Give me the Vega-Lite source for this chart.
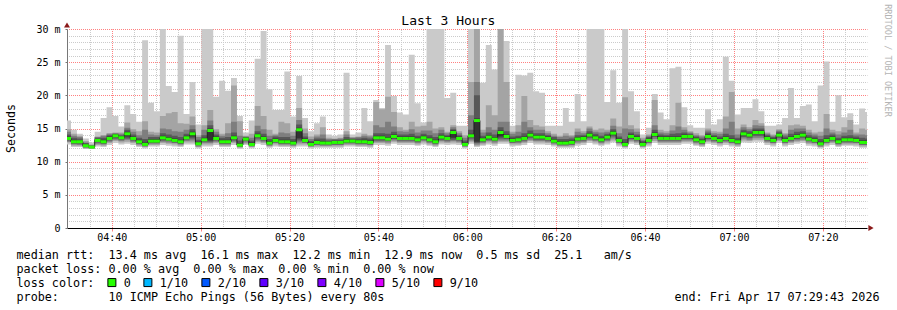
{
"$schema": "https://vega.github.io/schema/vega-lite/v6.json",
"width": 800,
"height": 199,
"autosize": "none",
"padding": {"left": 67, "top": 29, "right": 30, "bottom": 82},
"background": "#ffffff",
"config": {"view": {"stroke": null}, "font": "DejaVu Sans Mono"},
"data": {
"format": {"parse": {"t": "utc:'%H:%M:%S'"}},
"values": [
{"t":"04:29:30","a":12.6,"b":12.9,"c":13.0,"d":13.2,"e":13.3,"m":13.5,"f":13.8,"g":14.1,"h":14.5,"i":14.9,"j":16.2},
{"t":"04:30:50","a":12.2,"b":12.4,"c":12.6,"d":12.7,"e":12.9,"m":13.0,"f":13.3,"g":13.6,"h":13.9,"i":14.2,"j":14.8},
{"t":"04:32:10","a":12.2,"b":12.4,"c":12.5,"d":12.7,"e":12.8,"m":13.0,"f":13.2,"g":13.5,"h":13.7,"i":13.9,"j":14.2},
{"t":"04:33:30","a":11.9,"b":12.0,"c":12.1,"d":12.2,"e":12.3,"m":12.4,"f":12.6,"g":12.8,"h":12.9,"i":13.1,"j":13.5},
{"t":"04:34:50","a":11.9,"b":12.0,"c":12.0,"d":12.1,"e":12.1,"m":12.2,"f":12.3,"g":12.4,"h":12.5,"i":12.6,"j":12.9},
{"t":"04:36:10","a":12.3,"b":12.5,"c":12.7,"d":12.9,"e":13.0,"m":13.2,"f":13.4,"g":13.6,"h":13.7,"i":13.8,"j":14.5},
{"t":"04:37:30","a":12.2,"b":12.4,"c":12.6,"d":12.7,"e":12.9,"m":13.0,"f":13.3,"g":13.6,"h":13.9,"i":14.0,"j":16.6},
{"t":"04:38:50","a":12.5,"b":12.8,"c":13.0,"d":13.2,"e":13.4,"m":13.5,"f":13.8,"g":14.0,"h":14.2,"i":14.3,"j":18.2},
{"t":"04:40:10","a":12.8,"b":13.1,"c":13.3,"d":13.5,"e":13.7,"m":13.9,"f":14.1,"g":14.2,"h":14.3,"i":14.4,"j":16.9},
{"t":"04:41:30","a":12.6,"b":12.9,"c":13.1,"d":13.3,"e":13.5,"m":13.6,"f":13.8,"g":14.0,"h":14.2,"i":14.4,"j":15.3},
{"t":"04:42:50","a":12.7,"b":13.0,"c":13.3,"d":13.5,"e":13.8,"m":14.2,"f":14.5,"g":14.8,"h":15.1,"i":15.9,"j":18.5},
{"t":"04:44:10","a":12.5,"b":12.8,"c":13.0,"d":13.2,"e":13.3,"m":13.5,"f":13.8,"g":14.1,"h":14.5,"i":14.9,"j":17.2},
{"t":"04:45:30","a":12.2,"b":12.4,"c":12.6,"d":12.7,"e":12.9,"m":13.0,"f":13.3,"g":13.6,"h":14.0,"i":14.6,"j":16.0},
{"t":"04:46:50","a":12.0,"b":12.2,"c":12.3,"d":12.4,"e":12.5,"m":12.6,"f":12.9,"g":13.4,"h":14.8,"i":16.1,"j":28.3},
{"t":"04:48:10","a":12.3,"b":12.5,"c":12.7,"d":12.8,"e":13.0,"m":13.1,"f":13.4,"g":13.7,"h":14.1,"i":14.5,"j":18.9},
{"t":"04:49:30","a":12.3,"b":12.5,"c":12.7,"d":12.8,"e":13.0,"m":13.1,"f":13.4,"g":13.7,"h":14.0,"i":14.4,"j":17.6},
{"t":"04:50:50","a":12.5,"b":12.8,"c":13.0,"d":13.2,"e":13.4,"m":13.6,"f":13.9,"g":14.3,"h":15.0,"i":16.9,"j":31},
{"t":"04:52:10","a":12.4,"b":12.7,"c":12.9,"d":13.1,"e":13.3,"m":13.4,"f":13.7,"g":14.1,"h":14.9,"i":17.3,"j":21.4},
{"t":"04:53:30","a":12.3,"b":12.6,"c":12.8,"d":12.9,"e":13.1,"m":13.2,"f":13.5,"g":13.9,"h":14.6,"i":17.5,"j":20.5},
{"t":"04:54:50","a":12.2,"b":12.4,"c":12.6,"d":12.7,"e":12.9,"m":13.0,"f":13.3,"g":13.7,"h":14.5,"i":15.8,"j":29.0},
{"t":"04:56:10","a":12.6,"b":12.9,"c":13.1,"d":13.3,"e":13.5,"m":13.6,"f":13.9,"g":14.2,"h":14.8,"i":15.7,"j":17.2},
{"t":"04:57:30","a":12.6,"b":12.9,"c":13.2,"d":13.5,"e":13.8,"m":14.2,"f":14.5,"g":14.9,"h":15.5,"i":16.8,"j":22.0},
{"t":"04:58:50","a":12.0,"b":12.2,"c":12.3,"d":12.5,"e":12.6,"m":12.7,"f":13.0,"g":13.3,"h":13.7,"i":14.0,"j":15.6},
{"t":"05:00:10","a":12.3,"b":12.6,"c":12.8,"d":13.0,"e":13.2,"m":13.3,"f":13.6,"g":14.0,"h":14.8,"i":15.5,"j":31},
{"t":"05:01:30","a":12.3,"b":12.6,"c":12.8,"d":13.0,"e":13.2,"m":14.7,"f":15.0,"g":15.5,"h":16.2,"i":17.8,"j":31},
{"t":"05:02:50","a":12.5,"b":12.8,"c":13.0,"d":13.2,"e":13.4,"m":13.5,"f":13.8,"g":14.1,"h":14.5,"i":14.9,"j":19.8},
{"t":"05:04:10","a":12.2,"b":12.4,"c":12.6,"d":12.7,"e":12.9,"m":13.0,"f":13.3,"g":13.6,"h":13.9,"i":14.2,"j":22.2},
{"t":"05:05:30","a":12.2,"b":12.4,"c":12.6,"d":12.7,"e":12.9,"m":13.0,"f":13.3,"g":13.7,"h":14.3,"i":15.8,"j":20.7},
{"t":"05:06:50","a":12.5,"b":12.8,"c":13.0,"d":13.2,"e":13.4,"m":13.6,"f":13.9,"g":14.4,"h":16.0,"i":21.5,"j":22.6},
{"t":"05:08:10","a":11.9,"b":12.1,"c":12.2,"d":12.3,"e":12.4,"m":12.5,"f":12.8,"g":13.2,"h":13.9,"i":16.1,"j":16.9},
{"t":"05:09:30","a":12.5,"b":12.7,"c":12.9,"d":13.1,"e":13.3,"m":13.4,"f":13.6,"g":13.7,"h":13.8,"i":13.9,"j":14.4},
{"t":"05:10:50","a":12.0,"b":12.2,"c":12.3,"d":12.4,"e":12.5,"m":12.6,"f":12.9,"g":13.2,"h":13.6,"i":14.2,"j":16.2},
{"t":"05:12:10","a":12.7,"b":13.0,"c":13.2,"d":13.5,"e":13.7,"m":13.9,"f":14.2,"g":14.6,"h":15.4,"i":18.4,"j":25.5},
{"t":"05:13:30","a":12.5,"b":12.8,"c":13.0,"d":13.2,"e":13.4,"m":13.5,"f":13.8,"g":14.2,"h":14.9,"i":16.9,"j":29.7},
{"t":"05:14:50","a":12.1,"b":12.3,"c":12.4,"d":12.6,"e":12.7,"m":12.8,"f":13.1,"g":13.4,"h":13.9,"i":14.8,"j":20.9},
{"t":"05:16:10","a":12.3,"b":12.6,"c":12.8,"d":12.9,"e":13.1,"m":13.2,"f":13.5,"g":13.8,"h":14.0,"i":14.2,"j":17.8},
{"t":"05:17:30","a":12.2,"b":12.4,"c":12.6,"d":12.7,"e":12.9,"m":13.0,"f":13.3,"g":13.7,"h":14.4,"i":16.0,"j":17.8},
{"t":"05:18:50","a":12.2,"b":12.4,"c":12.6,"d":12.7,"e":12.9,"m":13.0,"f":13.3,"g":13.7,"h":14.3,"i":15.8,"j":23.6},
{"t":"05:20:10","a":12.1,"b":12.3,"c":12.4,"d":12.6,"e":12.7,"m":12.8,"f":13.1,"g":13.4,"h":13.9,"i":14.5,"j":16.8},
{"t":"05:21:30","a":12.3,"b":12.6,"c":12.9,"d":13.2,"e":13.5,"m":14.8,"f":15.1,"g":15.6,"h":16.3,"i":18.1,"j":22.9},
{"t":"05:22:50","a":12.3,"b":12.6,"c":12.8,"d":12.9,"e":13.1,"m":13.2,"f":13.5,"g":13.8,"h":14.3,"i":15.0,"j":16.6},
{"t":"05:24:10","a":12.0,"b":12.2,"c":12.3,"d":12.4,"e":12.5,"m":12.6,"f":12.9,"g":13.1,"h":13.4,"i":13.8,"j":14.6},
{"t":"05:25:30","a":12.1,"b":12.3,"c":12.5,"d":12.6,"e":12.8,"m":12.9,"f":13.2,"g":13.5,"h":13.8,"i":14.1,"j":15.8},
{"t":"05:26:50","a":12.1,"b":12.3,"c":12.4,"d":12.6,"e":12.7,"m":12.8,"f":13.1,"g":13.5,"h":14.1,"i":15.2,"j":16.8},
{"t":"05:28:10","a":12.1,"b":12.3,"c":12.4,"d":12.6,"e":12.7,"m":12.8,"f":13.0,"g":13.2,"h":13.4,"i":13.6,"j":14.1},
{"t":"05:29:30","a":12.1,"b":12.3,"c":12.5,"d":12.6,"e":12.8,"m":12.9,"f":13.1,"g":13.3,"h":13.4,"i":13.5,"j":13.9},
{"t":"05:30:50","a":12.1,"b":12.3,"c":12.5,"d":12.6,"e":12.8,"m":12.9,"f":13.1,"g":13.3,"h":13.5,"i":13.6,"j":14.1},
{"t":"05:32:10","a":12.3,"b":12.5,"c":12.7,"d":12.8,"e":13.0,"m":13.1,"f":13.4,"g":13.7,"h":14.1,"i":14.6,"j":23.4},
{"t":"05:33:30","a":12.3,"b":12.5,"c":12.7,"d":12.8,"e":13.0,"m":13.1,"f":13.3,"g":13.5,"h":13.6,"i":13.7,"j":14.1},
{"t":"05:34:50","a":12.2,"b":12.4,"c":12.6,"d":12.7,"e":12.9,"m":13.0,"f":13.2,"g":13.5,"h":13.7,"i":13.8,"j":14.4},
{"t":"05:36:10","a":12.2,"b":12.4,"c":12.6,"d":12.7,"e":12.9,"m":13.0,"f":13.3,"g":13.6,"h":13.9,"i":14.2,"j":18.1},
{"t":"05:37:30","a":12.1,"b":12.3,"c":12.5,"d":12.6,"e":12.8,"m":12.9,"f":13.2,"g":13.5,"h":13.8,"i":14.0,"j":16.1},
{"t":"05:38:50","a":12.5,"b":12.8,"c":13.0,"d":13.2,"e":13.4,"m":13.6,"f":13.9,"g":14.3,"h":15.5,"i":19.0,"j":19.3},
{"t":"05:40:10","a":12.5,"b":12.8,"c":13.0,"d":13.2,"e":13.4,"m":13.6,"f":13.9,"g":14.3,"h":15.2,"i":17.9,"j":18.1},
{"t":"05:41:30","a":12.4,"b":12.7,"c":12.9,"d":13.1,"e":13.3,"m":13.4,"f":13.7,"g":14.2,"h":16.0,"i":19.8,"j":27.6},
{"t":"05:42:50","a":12.7,"b":13.0,"c":13.2,"d":13.4,"e":13.6,"m":13.8,"f":14.1,"g":14.5,"h":15.3,"i":17.5,"j":19.9},
{"t":"05:44:10","a":12.5,"b":12.8,"c":13.0,"d":13.2,"e":13.4,"m":13.5,"f":13.8,"g":14.1,"h":14.6,"i":15.2,"j":17.4},
{"t":"05:45:30","a":12.5,"b":12.8,"c":13.0,"d":13.2,"e":13.4,"m":13.5,"f":13.8,"g":14.1,"h":14.5,"i":14.8,"j":17.1},
{"t":"05:46:50","a":12.5,"b":12.8,"c":13.0,"d":13.2,"e":13.4,"m":13.5,"f":13.8,"g":14.2,"h":14.9,"i":16.0,"j":26.1},
{"t":"05:48:10","a":12.4,"b":12.6,"c":12.8,"d":13.0,"e":13.2,"m":13.3,"f":13.6,"g":13.9,"h":14.4,"i":15.3,"j":18.8},
{"t":"05:49:30","a":12.6,"b":12.9,"c":13.1,"d":13.3,"e":13.5,"m":13.6,"f":13.9,"g":14.2,"h":14.7,"i":15.4,"j":15.9},
{"t":"05:50:50","a":12.4,"b":12.6,"c":12.8,"d":13.0,"e":13.2,"m":13.3,"f":13.6,"g":14.0,"h":14.7,"i":16.0,"j":31},
{"t":"05:52:10","a":12.2,"b":12.4,"c":12.6,"d":12.7,"e":12.9,"m":13.0,"f":13.3,"g":13.7,"h":14.3,"i":15.0,"j":31},
{"t":"05:53:30","a":12.6,"b":12.9,"c":13.1,"d":13.3,"e":13.5,"m":13.7,"f":14.0,"g":14.3,"h":14.8,"i":15.2,"j":31},
{"t":"05:54:50","a":12.5,"b":12.8,"c":13.0,"d":13.2,"e":13.4,"m":13.5,"f":13.8,"g":14.0,"h":14.3,"i":14.5,"j":19.6},
{"t":"05:56:10","a":12.6,"b":12.9,"c":13.1,"d":13.3,"e":13.6,"m":14.4,"f":14.7,"g":14.9,"h":15.2,"i":15.5,"j":20.4},
{"t":"05:57:30","a":12.5,"b":12.8,"c":13.0,"d":13.2,"e":13.4,"m":13.5,"f":13.8,"g":14.0,"h":14.3,"i":14.6,"j":15.4},
{"t":"05:58:50","a":12.0,"b":12.2,"c":12.3,"d":12.4,"e":12.5,"m":12.6,"f":12.9,"g":13.2,"h":13.6,"i":14.0,"j":15.4},
{"t":"06:00:10","a":12.7,"b":13.0,"c":13.2,"d":13.5,"e":13.7,"m":13.9,"f":14.2,"g":14.8,"h":17.0,"i":22.0,"j":31},
{"t":"06:01:30","a":12.2,"b":12.4,"c":12.6,"d":12.8,"e":13.0,"m":16.2,"f":16.5,"g":20.0,"h":22.0,"i":31,"j":31},
{"t":"06:02:50","a":12.4,"b":12.6,"c":12.8,"d":13.0,"e":13.2,"m":13.3,"f":13.6,"g":13.9,"h":14.4,"i":14.8,"j":21.9},
{"t":"06:04:10","a":12.6,"b":12.9,"c":13.1,"d":13.3,"e":13.5,"m":13.7,"f":14.0,"g":14.4,"h":15.2,"i":18.5,"j":27.6},
{"t":"06:05:30","a":12.4,"b":12.7,"c":12.9,"d":13.1,"e":13.3,"m":13.4,"f":13.7,"g":14.1,"h":14.8,"i":17.0,"j":23.9},
{"t":"06:06:50","a":12.7,"b":13.0,"c":13.2,"d":13.5,"e":13.8,"m":14.4,"f":14.7,"g":15.2,"h":16.0,"i":31,"j":31},
{"t":"06:08:10","a":12.7,"b":13.0,"c":13.2,"d":13.4,"e":13.6,"m":13.8,"f":14.1,"g":14.6,"h":16.0,"i":22.0,"j":28.2},
{"t":"06:09:30","a":12.3,"b":12.6,"c":12.8,"d":12.9,"e":13.1,"m":13.2,"f":13.5,"g":13.8,"h":14.2,"i":14.5,"j":15.4},
{"t":"06:10:50","a":12.4,"b":12.6,"c":12.8,"d":13.0,"e":13.2,"m":13.3,"f":13.6,"g":13.9,"h":14.5,"i":15.5,"j":23.1},
{"t":"06:12:10","a":12.5,"b":12.8,"c":13.0,"d":13.2,"e":13.4,"m":13.5,"f":13.8,"g":14.3,"h":16.0,"i":19.9,"j":23.0},
{"t":"06:13:30","a":12.8,"b":13.1,"c":13.3,"d":13.6,"e":13.8,"m":14.0,"f":14.3,"g":14.7,"h":15.2,"i":16.3,"j":23.4},
{"t":"06:14:50","a":12.6,"b":12.9,"c":13.1,"d":13.3,"e":13.5,"m":13.7,"f":14.0,"g":14.3,"h":14.8,"i":15.5,"j":20.6},
{"t":"06:16:10","a":12.6,"b":12.9,"c":13.1,"d":13.3,"e":13.5,"m":13.7,"f":14.0,"g":14.3,"h":14.8,"i":15.3,"j":20.4},
{"t":"06:17:30","a":12.5,"b":12.8,"c":13.0,"d":13.2,"e":13.4,"m":13.5,"f":13.8,"g":14.0,"h":14.3,"i":14.6,"j":15.4},
{"t":"06:18:50","a":12.3,"b":12.5,"c":12.7,"d":12.8,"e":13.0,"m":13.1,"f":13.4,"g":13.7,"h":13.9,"i":14.2,"j":15.4},
{"t":"06:20:10","a":12.1,"b":12.3,"c":12.4,"d":12.6,"e":12.7,"m":12.8,"f":13.1,"g":13.4,"h":13.7,"i":13.9,"j":15.4},
{"t":"06:21:30","a":12.1,"b":12.3,"c":12.4,"d":12.6,"e":12.7,"m":12.8,"f":13.1,"g":13.4,"h":13.9,"i":14.3,"j":18.1},
{"t":"06:22:50","a":12.1,"b":12.3,"c":12.5,"d":12.6,"e":12.8,"m":12.9,"f":13.2,"g":13.5,"h":13.8,"i":14.0,"j":16.0},
{"t":"06:24:10","a":12.4,"b":12.7,"c":12.9,"d":13.1,"e":13.3,"m":13.4,"f":13.7,"g":14.0,"h":14.5,"i":15.0,"j":20.2},
{"t":"06:25:30","a":12.5,"b":12.8,"c":13.0,"d":13.2,"e":13.4,"m":13.5,"f":13.8,"g":14.0,"h":14.3,"i":14.6,"j":16.1},
{"t":"06:26:50","a":12.8,"b":13.1,"c":13.3,"d":13.6,"e":13.8,"m":14.0,"f":14.3,"g":14.6,"h":15.0,"i":15.3,"j":31},
{"t":"06:28:10","a":12.6,"b":12.9,"c":13.1,"d":13.3,"e":13.5,"m":13.6,"f":13.9,"g":14.2,"h":14.5,"i":14.8,"j":31},
{"t":"06:29:30","a":12.4,"b":12.6,"c":12.8,"d":13.0,"e":13.2,"m":13.3,"f":13.6,"g":13.9,"h":14.4,"i":15.0,"j":31},
{"t":"06:30:50","a":12.6,"b":12.9,"c":13.1,"d":13.3,"e":13.5,"m":13.7,"f":14.0,"g":14.2,"h":14.5,"i":14.8,"j":19.0},
{"t":"06:32:10","a":12.9,"b":13.2,"c":13.5,"d":13.8,"e":14.1,"m":14.3,"f":14.6,"g":14.9,"h":15.4,"i":16.5,"j":23.8},
{"t":"06:33:30","a":12.3,"b":12.6,"c":12.8,"d":12.9,"e":13.1,"m":13.2,"f":13.5,"g":13.8,"h":14.3,"i":15.3,"j":18.9},
{"t":"06:34:50","a":12.0,"b":12.2,"c":12.3,"d":12.4,"e":12.5,"m":12.6,"f":12.9,"g":13.4,"h":15.0,"i":19.7,"j":31},
{"t":"06:36:10","a":12.7,"b":13.0,"c":13.2,"d":13.4,"e":13.6,"m":13.8,"f":14.1,"g":14.4,"h":14.9,"i":15.5,"j":20.6},
{"t":"06:37:30","a":12.5,"b":12.8,"c":13.0,"d":13.2,"e":13.4,"m":13.5,"f":13.8,"g":14.1,"h":14.5,"i":15.0,"j":17.6},
{"t":"06:38:50","a":12.0,"b":12.2,"c":12.3,"d":12.4,"e":12.5,"m":12.6,"f":12.9,"g":13.1,"h":13.3,"i":13.6,"j":14.1},
{"t":"06:40:10","a":12.3,"b":12.6,"c":12.8,"d":12.9,"e":13.1,"m":13.2,"f":13.5,"g":13.7,"h":13.9,"i":14.1,"j":15.1},
{"t":"06:41:30","a":12.8,"b":13.1,"c":13.4,"d":13.7,"e":13.9,"m":14.1,"f":14.4,"g":14.8,"h":15.5,"i":19.3,"j":20.2},
{"t":"06:42:50","a":12.5,"b":12.8,"c":13.0,"d":13.2,"e":13.4,"m":13.5,"f":13.8,"g":14.1,"h":14.4,"i":14.8,"j":17.4},
{"t":"06:44:10","a":12.5,"b":12.8,"c":13.0,"d":13.2,"e":13.4,"m":13.5,"f":13.8,"g":14.0,"h":14.3,"i":14.6,"j":16.4},
{"t":"06:45:30","a":12.5,"b":12.8,"c":13.0,"d":13.2,"e":13.4,"m":13.5,"f":13.8,"g":14.2,"h":14.7,"i":15.5,"j":24.1},
{"t":"06:46:50","a":12.5,"b":12.8,"c":13.0,"d":13.2,"e":13.4,"m":13.5,"f":13.8,"g":14.3,"h":15.3,"i":18.9,"j":24.3},
{"t":"06:48:10","a":12.7,"b":13.0,"c":13.2,"d":13.4,"e":13.6,"m":13.8,"f":14.1,"g":14.4,"h":14.8,"i":15.2,"j":18.2},
{"t":"06:49:30","a":12.7,"b":13.0,"c":13.2,"d":13.4,"e":13.6,"m":13.8,"f":14.0,"g":14.2,"h":14.4,"i":14.6,"j":15.5},
{"t":"06:50:50","a":12.4,"b":12.6,"c":12.8,"d":13.0,"e":13.2,"m":13.3,"f":13.6,"g":13.8,"h":14.0,"i":14.3,"j":15.1},
{"t":"06:52:10","a":12.2,"b":12.4,"c":12.6,"d":12.7,"e":12.9,"m":13.0,"f":13.3,"g":13.5,"h":13.8,"i":14.0,"j":15.1},
{"t":"06:53:30","a":12.7,"b":13.0,"c":13.2,"d":13.4,"e":13.6,"m":13.8,"f":14.1,"g":14.4,"h":14.7,"i":15.0,"j":17.9},
{"t":"06:54:50","a":12.5,"b":12.8,"c":13.0,"d":13.2,"e":13.4,"m":13.5,"f":13.8,"g":14.0,"h":14.3,"i":14.6,"j":15.6},
{"t":"06:56:10","a":12.3,"b":12.6,"c":12.8,"d":12.9,"e":13.1,"m":13.2,"f":13.5,"g":13.8,"h":14.2,"i":14.5,"j":16.4},
{"t":"06:57:30","a":12.5,"b":12.8,"c":13.0,"d":13.2,"e":13.4,"m":13.5,"f":13.8,"g":14.2,"h":15.0,"i":16.8,"j":25.8},
{"t":"06:58:50","a":12.3,"b":12.6,"c":12.8,"d":12.9,"e":13.1,"m":13.2,"f":13.5,"g":14.0,"h":16.0,"i":20.5,"j":22.2},
{"t":"07:00:10","a":12.2,"b":12.4,"c":12.6,"d":12.7,"e":12.9,"m":13.0,"f":13.3,"g":13.6,"h":14.1,"i":15.0,"j":17.1},
{"t":"07:01:30","a":12.9,"b":13.2,"c":13.5,"d":13.7,"e":14.0,"m":14.2,"f":14.5,"g":14.8,"h":15.2,"i":15.6,"j":18.1},
{"t":"07:02:50","a":12.8,"b":13.1,"c":13.3,"d":13.6,"e":13.8,"m":14.0,"f":14.3,"g":14.6,"h":14.9,"i":15.2,"j":18.1},
{"t":"07:04:10","a":13.0,"b":13.3,"c":13.6,"d":13.9,"e":14.2,"m":14.4,"f":14.7,"g":15.0,"h":15.5,"i":16.3,"j":19.4},
{"t":"07:05:30","a":13.0,"b":13.3,"c":13.6,"d":13.9,"e":14.2,"m":14.4,"f":14.7,"g":15.0,"h":15.4,"i":15.8,"j":17.6},
{"t":"07:06:50","a":12.5,"b":12.8,"c":13.0,"d":13.2,"e":13.4,"m":13.5,"f":13.8,"g":14.0,"h":14.2,"i":14.4,"j":15.4},
{"t":"07:08:10","a":12.3,"b":12.6,"c":12.8,"d":12.9,"e":13.1,"m":13.2,"f":13.5,"g":13.7,"h":13.9,"i":14.1,"j":15.4},
{"t":"07:09:30","a":12.8,"b":13.1,"c":13.3,"d":13.6,"e":13.8,"m":14.0,"f":14.3,"g":14.5,"h":14.7,"i":14.9,"j":15.6},
{"t":"07:10:50","a":12.3,"b":12.6,"c":12.8,"d":12.9,"e":13.1,"m":13.2,"f":13.5,"g":13.8,"h":14.1,"i":14.3,"j":16.6},
{"t":"07:12:10","a":12.5,"b":12.8,"c":13.0,"d":13.2,"e":13.4,"m":13.5,"f":13.8,"g":14.2,"h":14.8,"i":15.5,"j":21.1},
{"t":"07:13:30","a":12.7,"b":13.0,"c":13.2,"d":13.4,"e":13.6,"m":13.8,"f":14.1,"g":14.5,"h":15.0,"i":15.6,"j":16.6},
{"t":"07:14:50","a":12.8,"b":13.1,"c":13.3,"d":13.6,"e":13.8,"m":14.0,"f":14.3,"g":14.6,"h":15.0,"i":15.4,"j":18.4},
{"t":"07:16:10","a":12.4,"b":12.7,"c":12.9,"d":13.1,"e":13.3,"m":13.4,"f":13.7,"g":14.0,"h":14.4,"i":14.8,"j":18.6},
{"t":"07:17:30","a":12.3,"b":12.6,"c":12.8,"d":12.9,"e":13.1,"m":13.2,"f":13.5,"g":13.8,"h":14.1,"i":14.4,"j":16.1},
{"t":"07:18:50","a":12.0,"b":12.2,"c":12.3,"d":12.5,"e":12.6,"m":12.7,"f":13.0,"g":13.4,"h":13.9,"i":14.5,"j":21.5},
{"t":"07:20:10","a":12.3,"b":12.6,"c":12.8,"d":12.9,"e":13.1,"m":13.2,"f":13.5,"g":14.0,"h":15.0,"i":17.2,"j":25.1},
{"t":"07:21:30","a":12.5,"b":12.8,"c":13.0,"d":13.2,"e":13.4,"m":13.5,"f":13.8,"g":14.1,"h":14.4,"i":14.8,"j":16.0},
{"t":"07:22:50","a":12.2,"b":12.4,"c":12.6,"d":12.7,"e":12.9,"m":13.0,"f":13.3,"g":13.6,"h":14.1,"i":14.6,"j":20.0},
{"t":"07:24:10","a":12.4,"b":12.6,"c":12.8,"d":13.0,"e":13.2,"m":13.3,"f":13.6,"g":13.9,"h":14.4,"i":15.2,"j":16.7},
{"t":"07:25:30","a":12.4,"b":12.6,"c":12.8,"d":13.0,"e":13.2,"m":13.3,"f":13.6,"g":14.0,"h":14.8,"i":16.3,"j":17.3},
{"t":"07:26:50","a":12.3,"b":12.6,"c":12.8,"d":12.9,"e":13.1,"m":13.2,"f":13.5,"g":13.8,"h":14.1,"i":14.4,"j":15.6},
{"t":"07:28:10","a":12.1,"b":12.3,"c":12.5,"d":12.6,"e":12.8,"m":12.9,"f":13.2,"g":13.6,"h":14.1,"i":15.0,"j":18.0},
{"t":"07:29:30","a":12.1,"b":12.3,"c":12.5,"d":12.6,"e":12.8,"m":12.9,"f":13.2,"g":13.5,"h":14.0,"i":14.8,"j":17.5},
{"t":"07:30:50","a":12.1,"b":12.3,"c":12.5,"d":12.6,"e":12.8,"m":12.9,"f":13.2,"g":13.5,"h":14.0,"i":14.8,"j":17.5}
]
},
"layer": [
{
"mark": {"type": "area", "interpolate": "step-after", "color": "#cacaca", "opacity": 1, "clip": true},
"encoding": {
"x": {"field": "t", "type": "temporal",
"scale": {"type": "utc", "domain": [{"year":1900,"month":1,"date":1,"hours":4,"minutes":29,"seconds":56,"utc":true},{"year":1900,"month":1,"date":1,"hours":7,"minutes":29,"seconds":56,"utc":true}]},
"axis": {"orient": "top",
"values": [
{"year":1900,"month":1,"date":1,"hours":4,"minutes":35,"utc":true},
{"year":1900,"month":1,"date":1,"hours":4,"minutes":45,"utc":true},
{"year":1900,"month":1,"date":1,"hours":4,"minutes":50,"utc":true},
{"year":1900,"month":1,"date":1,"hours":4,"minutes":55,"utc":true},
{"year":1900,"month":1,"date":1,"hours":5,"minutes":5,"utc":true},
{"year":1900,"month":1,"date":1,"hours":5,"minutes":10,"utc":true},
{"year":1900,"month":1,"date":1,"hours":5,"minutes":15,"utc":true},
{"year":1900,"month":1,"date":1,"hours":5,"minutes":25,"utc":true},
{"year":1900,"month":1,"date":1,"hours":5,"minutes":30,"utc":true},
{"year":1900,"month":1,"date":1,"hours":5,"minutes":35,"utc":true},
{"year":1900,"month":1,"date":1,"hours":5,"minutes":45,"utc":true},
{"year":1900,"month":1,"date":1,"hours":5,"minutes":50,"utc":true},
{"year":1900,"month":1,"date":1,"hours":5,"minutes":55,"utc":true},
{"year":1900,"month":1,"date":1,"hours":6,"minutes":5,"utc":true},
{"year":1900,"month":1,"date":1,"hours":6,"minutes":10,"utc":true},
{"year":1900,"month":1,"date":1,"hours":6,"minutes":15,"utc":true},
{"year":1900,"month":1,"date":1,"hours":6,"minutes":25,"utc":true},
{"year":1900,"month":1,"date":1,"hours":6,"minutes":30,"utc":true},
{"year":1900,"month":1,"date":1,"hours":6,"minutes":35,"utc":true},
{"year":1900,"month":1,"date":1,"hours":6,"minutes":45,"utc":true},
{"year":1900,"month":1,"date":1,"hours":6,"minutes":50,"utc":true},
{"year":1900,"month":1,"date":1,"hours":6,"minutes":55,"utc":true},
{"year":1900,"month":1,"date":1,"hours":7,"minutes":5,"utc":true},
{"year":1900,"month":1,"date":1,"hours":7,"minutes":10,"utc":true},
{"year":1900,"month":1,"date":1,"hours":7,"minutes":15,"utc":true},
{"year":1900,"month":1,"date":1,"hours":7,"minutes":25,"utc":true}
],
"grid": true, "gridColor": "#cbcbcb", "gridDash": [1, 1], "gridDashOffset": 0.5, "gridWidth": 1,
"ticks": false, "labels": false, "domain": false,
"title": "Last 3 Hours", "titleFont": "DejaVu Sans Mono", "titleFontSize": 13, "titleFontWeight": "normal", "titleColor": "#000000",
"titleX": 380.8, "titleY": -5, "titleAlign": "center", "titleBaseline": "alphabetic", "titleAnchor": "middle"}},
"y": {"field": "a", "type": "quantitative",
"scale": {"domain": [0, 30], "nice": false, "zero": true},
"axis": {"orient": "right",
"values": [1,2,3,4,6,7,8,9,11,12,13,14,16,17,18,19,21,22,23,24,26,27,28,29],
"grid": true, "gridColor": "#cbcbcb", "gridDash": [1, 1], "gridDashOffset": 0.5, "gridWidth": 1,
"ticks": false, "labels": false, "domain": false,
"title": "RRDTOOL / TOBI OETIKER", "titleFont": "DejaVu Sans Mono", "titleFontSize": 8.5, "titleFontWeight": "normal", "titleColor": "#b4b4b4",
"titleAngle": 90, "titleX": 20, "titleY": 31, "titleAlign": "center", "titleBaseline": "middle"}},
"y2": {"field": "j"}
}
},
{
"mark": {"type": "area", "interpolate": "step-after", "color": "#a4a4a4", "opacity": 1, "clip": true},
"encoding": {
"x": {"field": "t", "type": "temporal",
"axis": {"orient": "bottom",
"values": [
{"year":1900,"month":1,"date":1,"hours":4,"minutes":40,"utc":true},
{"year":1900,"month":1,"date":1,"hours":5,"minutes":0,"utc":true},
{"year":1900,"month":1,"date":1,"hours":5,"minutes":20,"utc":true},
{"year":1900,"month":1,"date":1,"hours":5,"minutes":40,"utc":true},
{"year":1900,"month":1,"date":1,"hours":6,"minutes":0,"utc":true},
{"year":1900,"month":1,"date":1,"hours":6,"minutes":20,"utc":true},
{"year":1900,"month":1,"date":1,"hours":6,"minutes":40,"utc":true},
{"year":1900,"month":1,"date":1,"hours":7,"minutes":0,"utc":true},
{"year":1900,"month":1,"date":1,"hours":7,"minutes":20,"utc":true}
],
"labelExpr": "utcFormat(datum.value, '%H:%M')",
"grid": true, "gridColor": "#ff8080", "gridDash": [1, 1], "gridDashOffset": 0.5, "gridWidth": 1,
"domain": true, "domainColor": "#000000", "domainWidth": 1,
"ticks": true, "tickSize": 3, "tickColor": "#ff8080",
"labelFont": "DejaVu Sans Mono", "labelFontSize": 10, "labelColor": "#000000", "labelPadding": 1, "labelFlush": false, "labelOverlap": false,
"title": ["median rtt:\u00a0\u00a013.4 ms avg\u00a0\u00a016.1 ms max\u00a0\u00a012.2 ms min\u00a0\u00a012.9 ms now\u00a0\u00a00.5 ms sd\u00a0\u00a025.1\u00a0\u00a0\u00a0am/s",
"packet loss: 0.00 % avg\u00a0\u00a00.00 % max\u00a0\u00a00.00 % min\u00a0\u00a00.00 % now",
"loss color:",
"probe:\u00a0\u00a0\u00a0\u00a0\u00a0\u00a0\u00a010 ICMP Echo Pings (56 Bytes) every 80s\u00a0\u00a0\u00a0\u00a0\u00a0\u00a0\u00a0\u00a0\u00a0\u00a0\u00a0\u00a0\u00a0\u00a0\u00a0\u00a0\u00a0\u00a0\u00a0\u00a0\u00a0\u00a0\u00a0\u00a0\u00a0\u00a0\u00a0\u00a0\u00a0\u00a0\u00a0\u00a0\u00a0\u00a0\u00a0\u00a0\u00a0\u00a0\u00a0\u00a0\u00a0end: Fri Apr 17 07:29:43 2026"],
"titleFont": "DejaVu Sans Mono", "titleFontSize": 11.75, "titleFontWeight": "normal", "titleColor": "#000000",
"titleX": -51, "titleY": 30, "titleAlign": "left", "titleBaseline": "alphabetic", "titleLineHeight": 14, "titleAnchor": "start"}},
"y": {"field": "b", "type": "quantitative",
"axis": {"orient": "left",
"values": [0, 5, 10, 15, 20, 25, 30],
"labelExpr": "datum.value == 0 ? '0' : datum.value + ' m'",
"grid": true, "gridColor": "#ff8080", "gridDash": [1, 1], "gridDashOffset": 0.5, "gridWidth": 1,
"gridOpacity": {"condition": {"test": "datum.value == 0", "value": 0}, "value": 1},
"domainColor": "#777777", "tickColor": "#777777", "tickSize": 2,
"labelFont": "DejaVu Sans Mono", "labelFontSize": 10, "labelColor": "#000000", "labelPadding": 5, "labelBaseline": "middle", "labelFlush": false,
"title": "Seconds", "titleFont": "DejaVu Sans Mono", "titleFontSize": 11.6, "titleFontWeight": "normal", "titleColor": "#000000",
"titleAngle": 270, "titleX": -56, "titleY": 99, "titleAlign": "center", "titleBaseline": "middle"}},
"y2": {"field": "i"}
}
},
{
"mark": {"type": "area", "interpolate": "step-after", "color": "#7e7e7e", "opacity": 1, "clip": true},
"encoding": {
"x": {"field": "t", "type": "temporal", "axis": null},
"y": {"field": "c", "type": "quantitative", "axis": null},
"y2": {"field": "h"}
}
},
{
"mark": {"type": "area", "interpolate": "step-after", "color": "#585858", "opacity": 1, "clip": true},
"encoding": {
"x": {"field": "t", "type": "temporal", "axis": null},
"y": {"field": "d", "type": "quantitative", "axis": null},
"y2": {"field": "g"}
}
},
{
"mark": {"type": "area", "interpolate": "step-after", "color": "#323232", "opacity": 1, "clip": true},
"encoding": {
"x": {"field": "t", "type": "temporal", "axis": null},
"y": {"field": "e", "type": "quantitative", "axis": null},
"y2": {"field": "f"}
}
},
{
"mark": {"type": "line", "interpolate": "step-after", "color": "#202020", "strokeWidth": 1, "opacity": 1, "clip": true},
"encoding": {
"x": {"field": "t", "type": "temporal", "axis": null},
"y": {"field": "m", "type": "quantitative", "axis": null}
}
},
{
"mark": {"type": "tick", "orient": "horizontal", "size": 5.93, "thickness": 3, "xOffset": 2.963, "opacity": 1, "clip": true},
"encoding": {
"x": {"field": "t", "type": "temporal", "axis": null},
"y": {"field": "m", "type": "quantitative", "axis": null},
"color": {"datum": "0", "type": "nominal",
"scale": {"domain": ["0", "1/10", "2/10", "3/10", "4/10", "5/10", "9/10"],
"range": ["#26ff00", "#00b8ff", "#0059ff", "#5e00ff", "#7e00ff", "#dd00ff", "#ff0000"]},
"legend": {"orient": "none", "legendX": 39, "legendY": 247.5, "direction": "horizontal", "columns": 7,
"title": null,
"labelFont": "DejaVu Sans Mono", "labelFontSize": 11.75, "labelColor": "#000000", "labelOffset": 6, "columnPadding": 10,
"symbolType": "square", "symbolSize": 64, "symbolStrokeColor": "#000000", "symbolStrokeWidth": 1, "symbolOpacity": 1, "padding": 0,
"encode": {"symbols": {"update": {"fill": {"scale": "color", "field": "value"}, "stroke": {"value": "#000000"}, "opacity": {"value": 1}}}}}}
}
},
{
"data": {"values": [{}]},
"mark": {"type": "point", "shape": "triangle-up", "filled": true, "size": 36, "color": "#8b1a1a", "opacity": 1, "yOffset": -4},
"encoding": {
"x": {"datum": {"year":1900,"month":1,"date":1,"hours":4,"minutes":29,"seconds":56,"utc":true}, "type": "temporal", "axis": null},
"y": {"datum": 30, "type": "quantitative", "axis": null}
}
},
{
"data": {"values": [{}]},
"mark": {"type": "point", "shape": "triangle-right", "filled": true, "size": 36, "color": "#8b1a1a", "opacity": 1, "xOffset": 4},
"encoding": {
"x": {"datum": {"year":1900,"month":1,"date":1,"hours":7,"minutes":29,"seconds":56,"utc":true}, "type": "temporal", "axis": null},
"y": {"datum": 0, "type": "quantitative", "axis": null}
}
}
],
"resolve": {"axis": {"x": "independent", "y": "independent"}}
}
